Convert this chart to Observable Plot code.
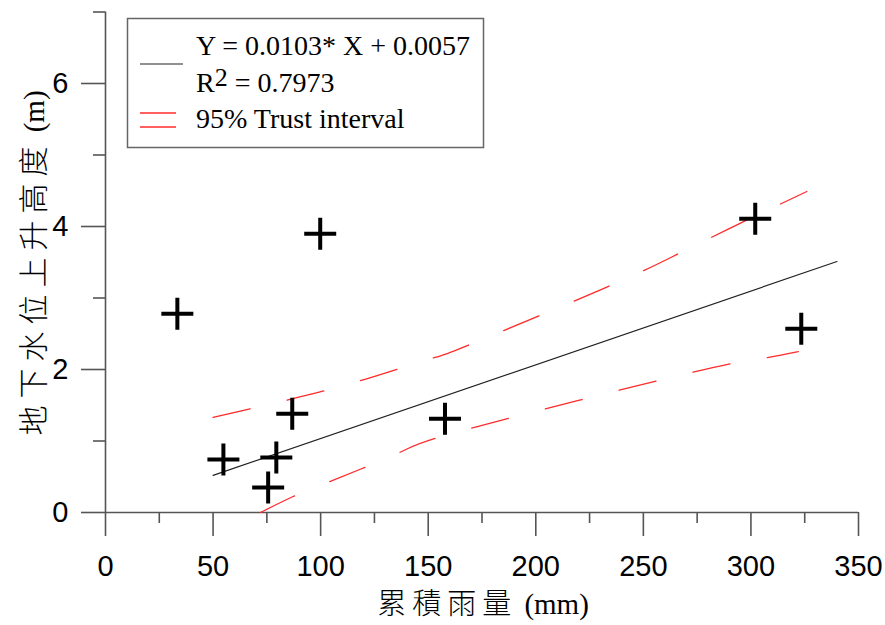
<!DOCTYPE html>
<html><head><meta charset="utf-8">
<script src="https://cdn.jsdelivr.net/npm/d3@7"></script>
<script src="https://cdn.jsdelivr.net/npm/@observablehq/plot@0.6"></script>
<style>body{margin:0;background:#fff}#chart{width:885px;height:625px}</style>
</head><body><div id="chart"></div>
<script>
// Observed points: cumulative rainfall (mm) vs groundwater rise (m)
const rainfall = [33.4, 99.8, 54.8, 79.4, 75.6, 86.8, 157.8, 302, 323.4];
const rise     = [2.78, 3.90, 0.74, 0.77, 0.35, 1.38, 1.31, 4.11, 2.57];
// Regression line endpoints
const fitX = [50, 340];
const fitY = [0.52, 3.51];
// 95% band
const upperX = [50, 84, 117, 151, 167, 229, 263, 294, 326];
const upperY = [1.33, 1.57, 1.83, 2.15, 2.32, 3.10, 3.57, 4.03, 4.49];
const lowerX = [72, 87, 104, 136, 169, 270, 304, 322];
const lowerY = [0.0, 0.22, 0.43, 0.83, 1.17, 1.94, 2.15, 2.25];
// ticks
const xMajor = [0, 50, 100, 150, 200, 250, 300, 350];
const xMinor = [25, 75, 125, 175, 225, 275, 325];
const yMajor = [0, 2, 4, 6];
const yMinor = [1, 3, 5, 7];
const xTitleCJK = "累積雨量", xTitleUnit = " (mm)";
const yTitleCJK = "地下水位上升高度", yTitleUnit = " (m)";
const legendEq = "Y = 0.0103* X + 0.0057";
const legendR2 = "0.7973";
const legendBand = "95% Trust interval";

const pts = rainfall.map((x, i) => ({x, y: rise[i]}));
const fit = fitX.map((x, i) => ({x, y: fitY[i]}));
const upper = upperX.map((x, i) => ({x, y: upperY[i]}));
const lower = lowerX.map((x, i) => ({x, y: lowerY[i]}));

const cross = {draw(ctx) { const r = 16; ctx.moveTo(-r, 0); ctx.lineTo(r, 0); ctx.moveTo(0, -r); ctx.lineTo(0, r); }};
const axisColor = "#555";
const axisW = 1.6;
const tickFont = "Liberation Sans, Arial, sans-serif";
const red = "#ff2a2a";

const chart = Plot.plot({
  width: 885, height: 625,
  marginLeft: 105, marginRight: 27, marginTop: 11.5, marginBottom: 113,
  x: {domain: [0, 350]},
  y: {domain: [0, 7]},
  style: {fontFamily: tickFont, background: "#fff", color: "#000"},
  marks: [
    Plot.axisX(xMajor, {tickSize: 24, tickPadding: 19, fontSize: 29, stroke: axisColor, strokeWidth: axisW, label: null, tickFormat: d3.format("d")}),
    Plot.axisX(xMinor, {tickSize: 11, tickFormat: () => "", label: null, stroke: axisColor, strokeWidth: axisW}),
    Plot.axisY(yMajor, {tickSize: 24, tickPadding: 13, fontSize: 29, stroke: axisColor, strokeWidth: axisW, label: null, tickFormat: d3.format("d")}),
    Plot.axisY(yMinor, {tickSize: 12, tickFormat: () => "", label: null, stroke: axisColor, strokeWidth: axisW}),
    Plot.ruleY([0], {stroke: axisColor, strokeWidth: axisW}),
    Plot.ruleX([0], {stroke: axisColor, strokeWidth: axisW}),
    Plot.line(upper, {x: "x", y: "y", stroke: red, strokeWidth: 1.3, strokeDasharray: "38,38", curve: "natural"}),
    Plot.line(lower, {x: "x", y: "y", stroke: red, strokeWidth: 1.3, strokeDasharray: "38,38", curve: "natural"}),
    Plot.line(fit, {x: "x", y: "y", stroke: "#222", strokeWidth: 1.2}),
    Plot.dot(pts, {x: "x", y: "y", symbol: cross, fill: "none", stroke: "#000", strokeWidth: 4})
  ]
});
document.getElementById("chart").appendChild(chart);

const svg = d3.select(chart);
const serif = "'Liberation Serif', 'Noto Sans CJK TC', serif";
// axis titles
const xt = svg.append("text").attr("x", 483).attr("y", 614).attr("text-anchor", "middle")
  .attr("font-family", serif).attr("fill", "#000");
xt.append("tspan").attr("font-family", "'Noto Sans CJK TC', sans-serif").attr("font-size", 29).attr("font-weight", 300).attr("letter-spacing", 6).text(xTitleCJK);
xt.append("tspan").attr("font-size", 29).text(xTitleUnit);
const yt = svg.append("text").attr("transform", "translate(44,263) rotate(-90)").attr("text-anchor", "middle")
  .attr("font-family", serif).attr("fill", "#000");
yt.append("tspan").attr("font-family", "'Noto Sans CJK TC', sans-serif").attr("font-size", 30).attr("font-weight", 300).attr("letter-spacing", 7).text(yTitleCJK);
yt.append("tspan").attr("font-size", 29).text(yTitleUnit);
// legend
const lg = svg.append("g").attr("text-anchor", "start");
lg.append("rect").attr("x", 127.5).attr("y", 18.5).attr("width", 356).attr("height", 129)
  .attr("fill", "#fff").attr("stroke", "#666").attr("stroke-width", 1.5);
lg.append("line").attr("x1", 140).attr("x2", 183).attr("y1", 64).attr("y2", 64).attr("stroke", "#222").attr("stroke-width", 1.2);
lg.append("line").attr("x1", 140).attr("x2", 176).attr("y1", 113).attr("y2", 113).attr("stroke", red).attr("stroke-width", 1.3);
lg.append("line").attr("x1", 140).attr("x2", 176).attr("y1", 127).attr("y2", 127).attr("stroke", red).attr("stroke-width", 1.3);
const t = lg.append("g").attr("font-family", serif).attr("font-size", 28).attr("fill", "#000");
t.append("text").attr("x", 196).attr("y", 55).text(legendEq);
const r2 = t.append("text").attr("x", 196).attr("y", 92);
r2.append("tspan").text("R");
r2.append("tspan").attr("dy", -6).attr("font-size", 26).text("2");
r2.append("tspan").attr("dy", 6).text(" = " + legendR2);
t.append("text").attr("x", 196).attr("y", 128).text(legendBand);
</script></body></html>
